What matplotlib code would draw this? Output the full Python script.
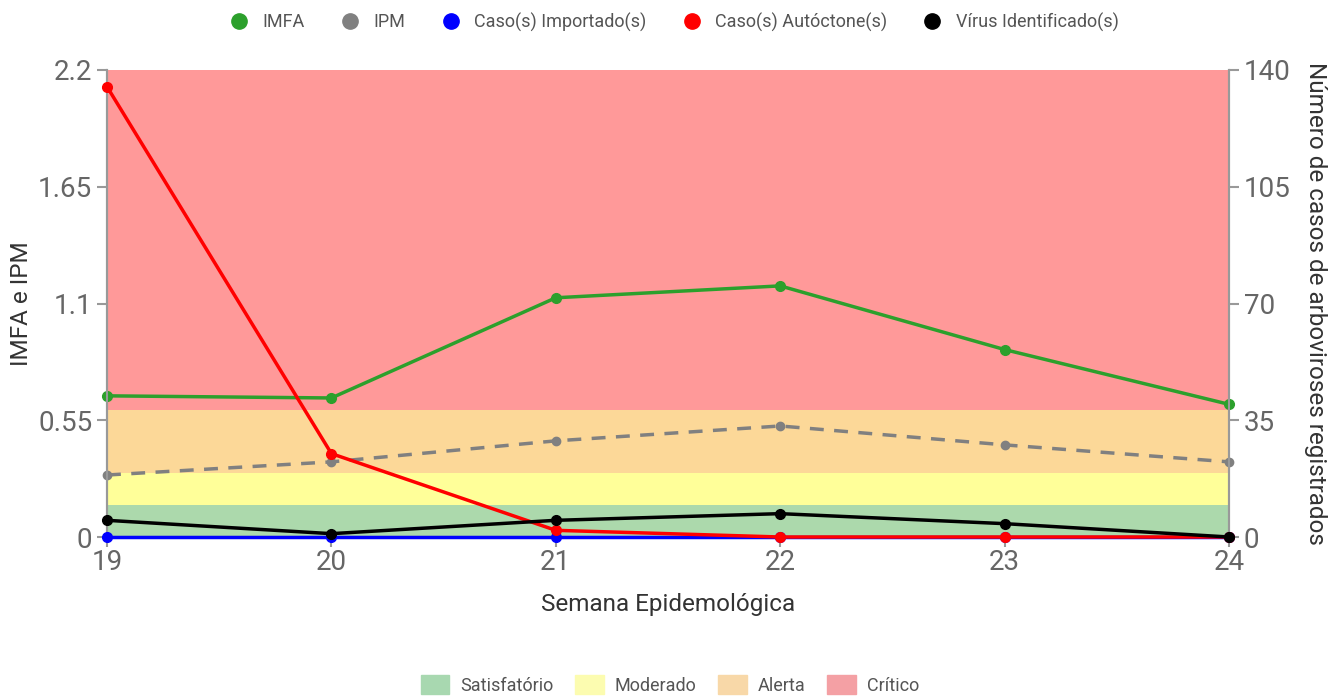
import matplotlib.pyplot as plt
from matplotlib.lines import Line2D
from matplotlib.patches import Patch

plt.rcParams['font.family'] = ['Roboto', 'DejaVu Sans']

semanas = [19, 20, 21, 22, 23, 24]
imfa = [0.665, 0.655, 1.127, 1.183, 0.883, 0.625]
ipm = [0.292, 0.354, 0.453, 0.523, 0.434, 0.354]
importados = [0, 0, 0, 0, 0, 0]
autoctones = [135, 25, 2, 0, 0, 0]
virus = [5, 1, 5, 7, 4, 0]

# faixas de risco (eixo da esquerda)
faixas = [(0, 0.15), (0.15, 0.3), (0.3, 0.6), (0.6, 2.2)]
faixa_nomes = ['Satisfatório', 'Moderado', 'Alerta', 'Crítico']
faixa_cores = ['#acd9ac', '#ffff99', '#fcd898', '#ff9999']
legenda_cores = ['#a8d8b0', '#fcfcb0', '#f8d8a8', '#f4a0a4']

cinza = '#666666'

fig = plt.figure(figsize=(13.4, 6.97), dpi=100)
ax = fig.add_axes([107/1340, 1-537/697, (1229-107)/1340, (537-70)/697])
ax2 = ax.twinx()

for (a, b), c in zip(faixas, faixa_cores):
    ax.axhspan(a, b, color=c, lw=0, zorder=0)

ax.plot(semanas, imfa, color='#2ca02c', lw=2.5, marker='o', ms=7, clip_on=False, zorder=3)
ax.plot(semanas, ipm, color='#808080', lw=2.5, ls=(0, (4, 3)), marker='o', ms=6, clip_on=False, zorder=3)

ax2.plot(semanas, importados, color='#0000ff', lw=2.5, marker='o', ms=7, clip_on=False, zorder=3)
ax2.plot(semanas, autoctones, color='#ff0000', lw=2.5, marker='o', ms=7, clip_on=False, zorder=4)
ax2.plot(semanas, virus, color='black', lw=2.5, marker='o', ms=7, clip_on=False, zorder=5)

ax.set_xlim(19, 24)
ax.set_ylim(0, 2.2)
ax2.set_ylim(0, 140)
ax.set_xticks(semanas)
ax.set_yticks([0, 0.55, 1.1, 1.65, 2.2])
ax.set_yticklabels(['0', '0.55', '1.1', '1.65', '2.2'])
ax2.set_yticks([0, 35, 70, 105, 140])

for a in (ax, ax2):
    for s in ['top']:
        a.spines[s].set_visible(False)
    for s in ['left', 'right', 'bottom']:
        a.spines[s].set_color('#999999')
        a.spines[s].set_linewidth(1.5)
    a.tick_params(colors='#999999', labelcolor=cinza, labelsize=20, length=7, width=1.5)
ax.tick_params(axis='x', pad=2)

ax.set_xlabel('Semana Epidemológica', fontsize=17.5, color='#333333', labelpad=12)
ax.set_ylabel('IMFA e IPM', fontsize=17.5, color='#333333', labelpad=4)
ax2.set_ylabel('Número de casos de arboviroses registrados', fontsize=17.5, color='#333333',
               rotation=270, labelpad=10, va='bottom')

series_nomes = ['IMFA', 'IPM', 'Caso(s) Importado(s)', 'Caso(s) Autóctone(s)', 'Vírus Identificado(s)']
series_cores = ['#2ca02c', '#808080', '#0000ff', '#ff0000', 'black']
h1 = [Line2D([], [], ls='none', marker='o', ms=11, color=c) for c in series_cores]
fig.legend(h1, series_nomes, loc='center', bbox_to_anchor=(0.5, 1-22/697), ncol=5, frameon=False,
           fontsize=13, labelcolor='#555555', handletextpad=0.3, columnspacing=1.5)

h2 = [Patch(color=c) for c in legenda_cores]
fig.legend(h2, faixa_nomes, loc='center', bbox_to_anchor=(0.5, 1-685/697), ncol=4, frameon=False,
           fontsize=13, labelcolor='#555555', handlelength=1.6, handleheight=1.2,
           handletextpad=0.6, columnspacing=1.2)

fig.savefig('out.png', dpi=100)
